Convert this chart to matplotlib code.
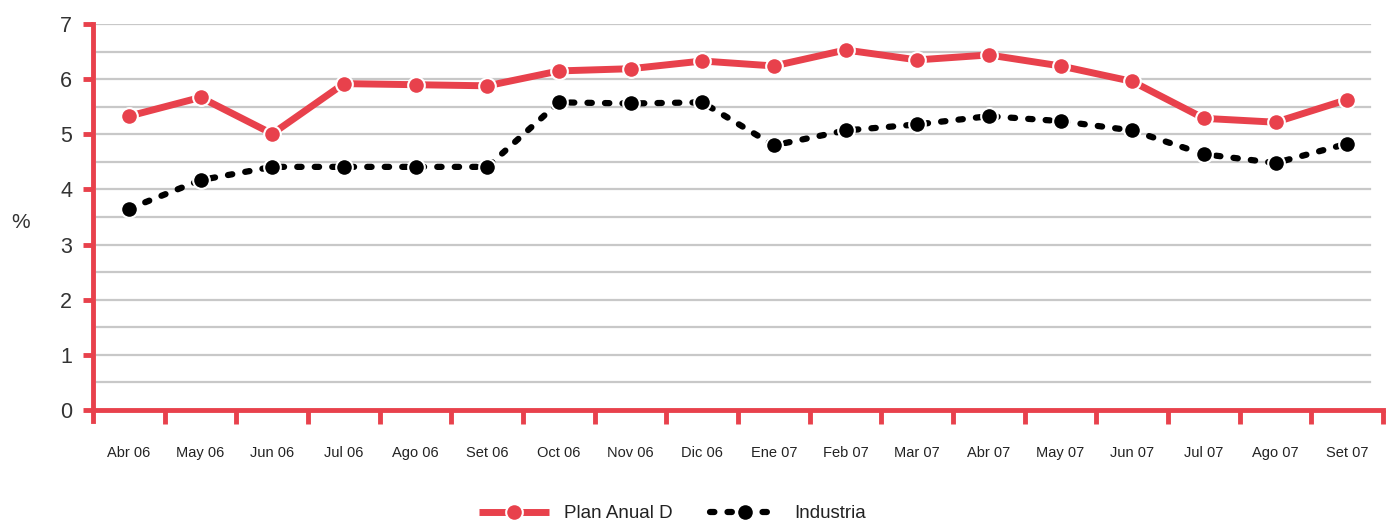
import matplotlib
matplotlib.use("Agg")
import matplotlib.pyplot as plt
import numpy as np

months = ["Abr 06", "May 06", "Jun 06", "Jul 06", "Ago 06", "Set 06", "Oct 06",
          "Nov 06", "Dic 06", "Ene 07", "Feb 07", "Mar 07", "Abr 07", "May 07",
          "Jun 07", "Jul 07", "Ago 07", "Set 07"]
plan_anual_d = [5.33, 5.67, 5.01, 5.92, 5.90, 5.88, 6.15, 6.19, 6.33, 6.24,
                6.53, 6.35, 6.44, 6.24, 5.96, 5.29, 5.22, 5.63]
industria = [3.65, 4.17, 4.41, 4.41, 4.41, 4.41, 5.58, 5.56, 5.58, 4.80,
             5.07, 5.18, 5.33, 5.24, 5.07, 4.64, 4.48, 4.83]
y_ticks = [0, 1, 2, 3, 4, 5, 6, 7]

RED = "#e8414c"

plt.rcParams["font.family"] = ["Liberation Sans", "DejaVu Sans"]

fig = plt.figure(figsize=(13.9, 5.23), dpi=100)
ax = fig.add_axes([0.067, 0.216, 0.928, 0.738])

x = np.arange(len(months))

# horizontal grid every half unit
for g in np.arange(0.5, 7.01, 0.5):
    ax.axhline(g, xmin=0.003, xmax=0.99, color="#c8c8c8", lw=1.6, zorder=1)

ax.plot(x, plan_anual_d, color=RED, lw=5, marker="o", ms=12,
        markerfacecolor=RED, markeredgecolor="white", markeredgewidth=1.5,
        label="Plan Anual D", zorder=3, solid_capstyle="butt")
ax.plot(x, industria, color="black", lw=4.5, ls=(0, (0.7, 2.1)), marker="o", ms=12,
        markerfacecolor="black", markeredgecolor="white", markeredgewidth=1.5,
        label="Industria", zorder=3, dash_capstyle="round")

ax.set_xlim(-0.5, len(months) - 0.5)
ax.set_ylim(0, 7)

for side in ("top", "right"):
    ax.spines[side].set_visible(False)
for side in ("left", "bottom"):
    ax.spines[side].set_color(RED)
    ax.spines[side].set_linewidth(3.5)
ax.spines["left"].set_bounds(-0.2, 7)
ax.spines["left"].set_zorder(4)
ax.spines["bottom"].set_zorder(4)

ax.set_yticks(y_ticks)
ax.set_yticklabels([str(v) for v in y_ticks], fontsize=15.5, color="#333333")
ax.tick_params(axis="y", direction="out", length=7, width=3.5, color=RED, pad=8)

# boundaries between months carry the ticks; labels sit at the month centers
ax.set_xticks(np.arange(0.5, len(months), 1.0))
ax.set_xticklabels([])
ax.tick_params(axis="x", which="major", direction="out", length=10, width=3.5, color=RED)
ax.set_xticks(x, minor=True)
ax.set_xticklabels(months, minor=True, fontsize=10.5, color="#222222")
ax.tick_params(axis="x", which="minor", length=0, pad=26)

fig.text(0.008, 0.575, "%", fontsize=15, color="#333333", ha="left", va="center")

fig.legend(loc="center", bbox_to_anchor=(0.484, 0.018), ncol=2, frameon=False,
           fontsize=13.5, handlelength=3.7, columnspacing=2.0, handletextpad=0.8,
           labelcolor="#222222")

fig.savefig("out.png", dpi=100, facecolor="white")
